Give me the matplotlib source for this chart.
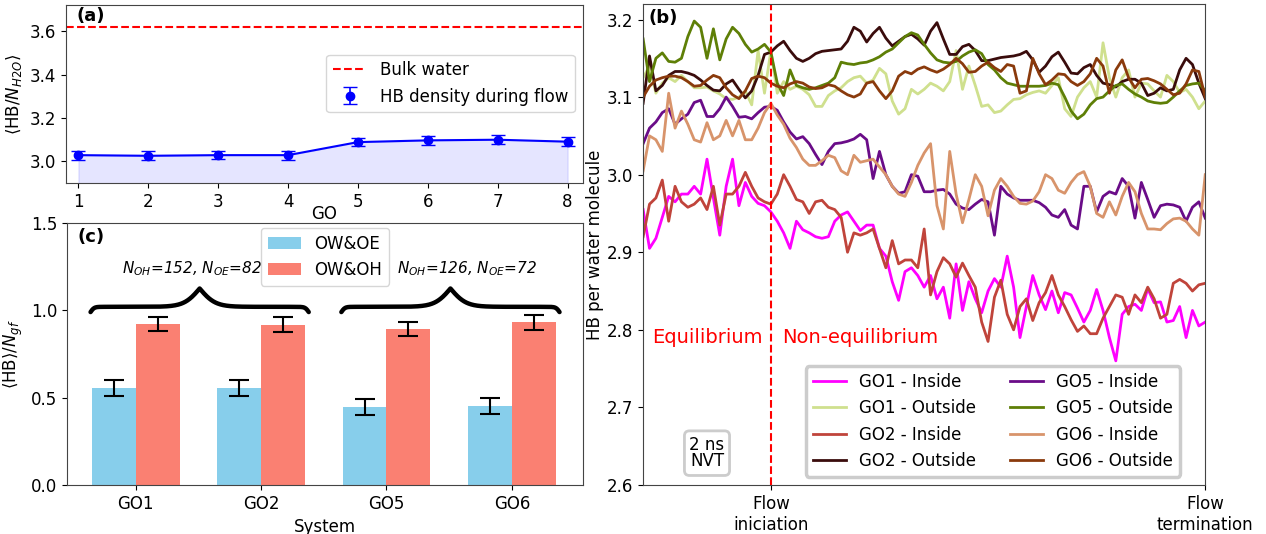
import numpy as np
import matplotlib
matplotlib.use("Agg")
import matplotlib.pyplot as plt

# ---- (a) HB density per water molecule for each GO
go_index = [1, 2, 3, 4, 5, 6, 7, 8]
hb_density = [3.029, 3.026, 3.029, 3.029, 3.089, 3.097, 3.100, 3.091]
hb_density_err = [0.021, 0.020, 0.020, 0.021, 0.020, 0.021, 0.021, 0.021]
bulk_water = 3.62

# ---- (c) HB per functional group
systems = ["GO1", "GO2", "GO5", "GO6"]
ow_oe = [0.555, 0.555, 0.447, 0.454]
ow_oe_err = [0.048, 0.045, 0.045, 0.045]
ow_oh = [0.922, 0.918, 0.893, 0.931]
ow_oh_err = [0.040, 0.042, 0.039, 0.044]
group_notes = [r"$N_{OH}$=152, $N_{OE}$=82", r"$N_{OH}$=126, $N_{OE}$=72"]

# ---- (b) HB per water molecule vs time (ns), flow starts at 2 ns
time_ns = np.linspace(0, 8.8, 89)
flow_start = 2.0

go1_inside = [2.955, 2.905, 2.918, 2.945, 2.972, 2.965, 2.975, 2.975, 2.985, 2.975,
              3.020, 2.970, 2.922, 2.985, 3.020, 2.960, 2.990, 2.972, 2.963, 2.960,
              2.952, 2.940, 2.925, 2.905, 2.940, 2.929, 2.925, 2.920, 2.918, 2.920,
              2.940, 2.948, 2.952, 2.940, 2.928, 2.935, 2.935, 2.905, 2.895, 2.862,
              2.838, 2.875, 2.880, 2.870, 2.855, 2.870, 2.840, 2.855, 2.815, 2.885,
              2.825, 2.862, 2.840, 2.822, 2.850, 2.866, 2.855, 2.895, 2.855, 2.790,
              2.830, 2.870, 2.845, 2.826, 2.850, 2.822, 2.848, 2.845, 2.828, 2.810,
              2.825, 2.852, 2.825, 2.790, 2.760, 2.820, 2.830, 2.833, 2.825, 2.853,
              2.835, 2.836, 2.810, 2.812, 2.830, 2.790, 2.825, 2.805, 2.810]
go1_outside = [3.125, 3.140, 3.105, 3.118, 3.125, 3.120, 3.128, 3.120, 3.112, 3.112,
               3.113, 3.108, 3.104, 3.098, 3.097, 3.100, 3.108, 3.090, 3.160, 3.105,
               3.160, 3.105, 3.120, 3.110, 3.114, 3.110, 3.103, 3.088, 3.088, 3.102,
               3.108, 3.112, 3.120, 3.125, 3.127, 3.118, 3.122, 3.137, 3.130, 3.095,
               3.078, 3.085, 3.110, 3.104, 3.110, 3.118, 3.114, 3.108, 3.120, 3.160,
               3.110, 3.140, 3.115, 3.088, 3.090, 3.080, 3.082, 3.090, 3.097, 3.098,
               3.103, 3.106, 3.108, 3.105, 3.115, 3.125, 3.085, 3.075, 3.100, 3.112,
               3.120, 3.100, 3.170, 3.125, 3.100, 3.125, 3.135, 3.100, 3.118, 3.117,
               3.108, 3.100, 3.128, 3.120, 3.106, 3.110, 3.100, 3.085, 3.095]
go2_inside = [2.920, 2.962, 2.970, 2.993, 2.940, 2.985, 2.965, 2.958, 2.962, 2.970,
              2.955, 2.985, 2.935, 2.975, 2.975, 2.985, 3.003, 2.985, 2.970, 2.965,
              2.962, 2.975, 3.000, 2.985, 2.968, 2.965, 2.950, 2.965, 2.967, 2.958,
              2.955, 2.945, 2.900, 2.925, 2.922, 2.925, 2.930, 2.905, 2.880, 2.915,
              2.885, 2.890, 2.890, 2.880, 2.930, 2.845, 2.875, 2.893, 2.885, 2.868,
              2.886, 2.870, 2.855, 2.810, 2.785, 2.842, 2.864, 2.820, 2.800, 2.830,
              2.840, 2.812, 2.835, 2.848, 2.870, 2.845, 2.830, 2.813, 2.798, 2.805,
              2.795, 2.795, 2.815, 2.830, 2.845, 2.842, 2.820, 2.845, 2.835, 2.855,
              2.840, 2.815, 2.820, 2.860, 2.865, 2.860, 2.850, 2.858, 2.860]
go2_outside = [3.092, 3.153, 3.108, 3.115, 3.128, 3.133, 3.133, 3.131, 3.128, 3.122,
               3.115, 3.109, 3.108, 3.117, 3.122, 3.110, 3.099, 3.108, 3.128, 3.155,
               3.158, 3.166, 3.172, 3.160, 3.150, 3.146, 3.150, 3.156, 3.159, 3.160,
               3.161, 3.162, 3.172, 3.190, 3.185, 3.171, 3.182, 3.190, 3.176, 3.166,
               3.172, 3.178, 3.181, 3.175, 3.167, 3.185, 3.196, 3.175, 3.155, 3.155,
               3.165, 3.168, 3.160, 3.147, 3.147, 3.149, 3.151, 3.152, 3.153, 3.155,
               3.159, 3.148, 3.132, 3.140, 3.152, 3.158, 3.145, 3.131, 3.130, 3.138,
               3.142, 3.128, 3.118, 3.116, 3.113, 3.120, 3.123, 3.123, 3.118, 3.102,
               3.105, 3.112, 3.108, 3.110, 3.135, 3.150, 3.142, 3.118, 3.098]
go5_inside = [3.040, 3.060, 3.068, 3.080, 3.085, 3.065, 3.072, 3.078, 3.093, 3.096,
              3.075, 3.075, 3.085, 3.100, 3.088, 3.074, 3.075, 3.072, 3.080, 3.087,
              3.088, 3.083, 3.068, 3.055, 3.046, 3.049, 3.040, 3.026, 3.013, 3.030,
              3.040, 3.041, 3.043, 3.046, 3.052, 3.045, 2.995, 3.030, 3.000, 2.985,
              2.976, 2.978, 3.000, 2.998, 2.978, 2.978, 2.980, 2.981, 2.975, 2.962,
              2.957, 2.955, 2.962, 2.968, 2.965, 2.922, 2.985, 2.975, 2.970, 2.967,
              2.967, 2.967, 2.964, 2.958, 2.948, 2.945, 2.955, 2.935, 2.930, 2.985,
              2.985, 2.952, 2.972, 2.978, 2.975, 2.995, 2.985, 2.944, 2.990, 2.968,
              2.945, 2.960, 2.962, 2.961, 2.958, 2.940, 2.958, 2.965, 2.944]
go5_outside = [3.175, 3.120, 3.150, 3.157, 3.146, 3.145, 3.150, 3.178, 3.198, 3.190,
               3.150, 3.188, 3.148, 3.175, 3.190, 3.182, 3.168, 3.158, 3.162, 3.168,
               3.158, 3.118, 3.102, 3.135, 3.115, 3.112, 3.110, 3.112, 3.115, 3.118,
               3.125, 3.145, 3.143, 3.142, 3.144, 3.145, 3.148, 3.152, 3.158, 3.162,
               3.170, 3.178, 3.183, 3.180, 3.168, 3.157, 3.148, 3.145, 3.144, 3.146,
               3.153, 3.158, 3.161, 3.156, 3.142, 3.135, 3.125, 3.118, 3.116, 3.114,
               3.114, 3.114, 3.114, 3.115, 3.118, 3.116, 3.100, 3.082, 3.072, 3.078,
               3.090, 3.098, 3.100, 3.108, 3.115, 3.117, 3.110, 3.104, 3.100, 3.095,
               3.093, 3.092, 3.093, 3.100, 3.108, 3.115, 3.117, 3.118, 3.108]
go6_inside = [3.005, 3.050, 3.045, 3.030, 3.105, 3.060, 3.082, 3.065, 3.045, 3.042,
              3.067, 3.045, 3.050, 3.070, 3.050, 3.070, 3.045, 3.045, 3.060, 3.080,
              3.092, 3.077, 3.065, 3.047, 3.035, 3.020, 3.012, 3.012, 3.018, 3.025,
              3.022, 3.005, 3.000, 3.025, 3.016, 3.018, 3.020, 3.010, 3.000, 2.985,
              2.975, 2.972, 2.990, 3.012, 3.028, 3.040, 2.960, 2.930, 3.030, 2.975,
              2.938, 2.968, 3.000, 2.985, 2.947, 2.980, 2.995, 2.985, 2.972, 2.963,
              2.962, 2.966, 2.978, 3.000, 2.995, 2.980, 2.976, 2.990, 3.000, 3.004,
              2.985, 2.950, 2.945, 2.965, 2.948, 2.972, 2.990, 2.978, 2.950, 2.930,
              2.930, 2.929, 2.937, 2.943, 2.944, 2.940, 2.930, 2.922, 3.000]
go6_outside = [3.100, 3.114, 3.122, 3.125, 3.127, 3.127, 3.125, 3.120, 3.114, 3.115,
               3.122, 3.128, 3.125, 3.112, 3.103, 3.098, 3.108, 3.124, 3.127, 3.125,
               3.118, 3.114, 3.112, 3.117, 3.120, 3.118, 3.113, 3.111, 3.112, 3.116,
               3.114, 3.108, 3.103, 3.100, 3.104, 3.118, 3.120, 3.108, 3.098, 3.108,
               3.127, 3.133, 3.130, 3.136, 3.139, 3.135, 3.132, 3.136, 3.142, 3.150,
               3.143, 3.132, 3.133, 3.140, 3.145, 3.138, 3.133, 3.142, 3.140, 3.105,
               3.108, 3.150, 3.130, 3.116, 3.122, 3.130, 3.129, 3.120, 3.115, 3.120,
               3.130, 3.150, 3.140, 3.105, 3.135, 3.148, 3.125, 3.112, 3.123, 3.124,
               3.121, 3.117, 3.110, 3.103, 3.105, 3.117, 3.135, 3.133, 3.100]

series_labels = ["GO1 - Inside", "GO1 - Outside", "GO2 - Inside", "GO2 - Outside",
                 "GO5 - Inside", "GO5 - Outside", "GO6 - Inside", "GO6 - Outside"]
series_values = [go1_inside, go1_outside, go2_inside, go2_outside,
                 go5_inside, go5_outside, go6_inside, go6_outside]
series_colors = ["#ff00ff", "#cfe08e", "#c0443b", "#3a0c0c",
                 "#6a0c88", "#5e7f06", "#d8946b", "#8a3a0c"]

plt.rcParams["font.size"] = 12
plt.rcParams["axes.edgecolor"] = "#444444"

fig = plt.figure(figsize=(12.66, 5.34), dpi=100)
ax_a = fig.add_axes([0.052, 0.657, 0.4085, 0.3336])
ax_c = fig.add_axes([0.053, 0.0918, 0.4075, 0.4906])
ax_b = fig.add_axes([0.508, 0.0918, 0.444, 0.9007])

# (a)
ax_a.axhline(bulk_water, color="red", ls="--", lw=1.5, label="Bulk water")
ax_a.errorbar(go_index, hb_density, yerr=hb_density_err, fmt="o", color="blue",
              ms=6, capsize=5, lw=1.2, label="HB density during flow")
ax_a.plot(go_index, hb_density, color="blue", lw=1.5)
ax_a.fill_between(go_index, hb_density, 2.9, color="blue", alpha=0.1)
ax_a.set_xlim(0.82, 8.22)
ax_a.set_ylim(2.9, 3.72)
ax_a.set_xticks(go_index)
ax_a.set_yticks([3.0, 3.2, 3.4, 3.6])
ax_a.set_xlabel("GO", labelpad=-4)
ax_a.set_ylabel(r"$\langle$HB/$N_{H2O}\rangle$")
ax_a.legend(loc="center right", bbox_to_anchor=(1.0, 0.56), fontsize=12)
ax_a.text(0.02, 0.99, "(a)", transform=ax_a.transAxes, fontweight="bold",
          va="top", fontsize=13)

# (c)
pos = np.arange(len(systems))
width = 0.35
ax_c.bar(pos - width / 2, ow_oe, width, color="skyblue", label="OW&OE",
         yerr=ow_oe_err, capsize=7, error_kw=dict(lw=1.5, capthick=1.5))
ax_c.bar(pos + width / 2, ow_oh, width, color="salmon", label="OW&OH",
         yerr=ow_oh_err, capsize=7, error_kw=dict(lw=1.5, capthick=1.5))
ax_c.set_ylim(0, 1.5)
ax_c.set_yticks([0.0, 0.5, 1.0, 1.5])
ax_c.set_xticks(pos)
ax_c.set_xticklabels(systems)
ax_c.set_xlabel("System")
ax_c.set_ylabel(r"$\langle$HB$\rangle$/$N_{gf}$")
ax_c.legend(loc="upper center", bbox_to_anchor=(0.5, 1.0), borderaxespad=0.3,
            fontsize=12)
ax_c.text(0.02, 0.98, "(c)", transform=ax_c.transAxes, fontweight="bold",
          va="top", fontsize=13)


def draw_brace(ax, x0, x1, y, drop, rise):
    xm = (x0 + x1) / 2
    xs = np.linspace(x0, xm, 200)
    ends = 1 / (1 + np.exp(-70 * (xs - x0)))
    peak = 1 / (1 + np.exp(-16 * (xs - xm)))
    ys = y - drop * (2 - 2 * ends) + rise * 2 * peak
    xs_full = np.concatenate([xs, (2 * xm - xs)[::-1][1:]])
    ys_full = np.concatenate([ys, ys[::-1][1:]])
    ax.plot(xs_full, ys_full, color="black", lw=3.2, solid_capstyle="round")


# one brace over each pair of systems
for k, note in enumerate(group_notes):
    left = pos[2 * k] - width - 0.01
    right = pos[2 * k + 1] + width + 0.03
    draw_brace(ax_c, left, right, 1.02, 0.03, 0.105)
    shift = -0.06 if k == 0 else 0.13
    ax_c.text((left + right) / 2 + shift, 1.24, note, ha="center", va="center",
              style="italic", fontsize=11)

# (b)
for label, values, color in zip(series_labels, series_values, series_colors):
    ax_b.plot(time_ns, values, color=color, lw=2, label=label)
ax_b.axvline(flow_start, color="red", ls="--", lw=1.5)
ax_b.set_xlim(0, 8.8)
ax_b.set_ylim(2.6, 3.22)
ax_b.set_yticks([2.6, 2.7, 2.8, 2.9, 3.0, 3.1, 3.2])
ax_b.set_xticks([flow_start, 8.8])
ax_b.set_xticklabels(["Flow\niniciation", "Flow\ntermination"])
ax_b.set_ylabel("HB per water molecule", labelpad=2)
ax_b.text(flow_start - 0.13, 2.79, "Equilibrium", color="red", ha="right",
          va="center", fontsize=14)
ax_b.text(flow_start + 0.18, 2.79, "Non-equilibrium", color="red", ha="left",
          va="center", fontsize=14)
ax_b.text(1.0, 2.641, "2 ns\nNVT", ha="center", va="center", fontsize=12,
          linespacing=0.9,
          bbox=dict(boxstyle="round,pad=0.3", fc="white", ec="#cccccc", lw=2))
leg = ax_b.legend(ncol=2, loc="lower right", bbox_to_anchor=(0.97, 0.0),
                  fontsize=12, fancybox=True, framealpha=1)
leg.get_frame().set_edgecolor("#cccccc")
leg.get_frame().set_linewidth(2.5)
ax_b.text(0.01, 0.99, "(b)", transform=ax_b.transAxes, fontweight="bold",
          va="top", fontsize=13)

fig.savefig("out.png", dpi=100)
